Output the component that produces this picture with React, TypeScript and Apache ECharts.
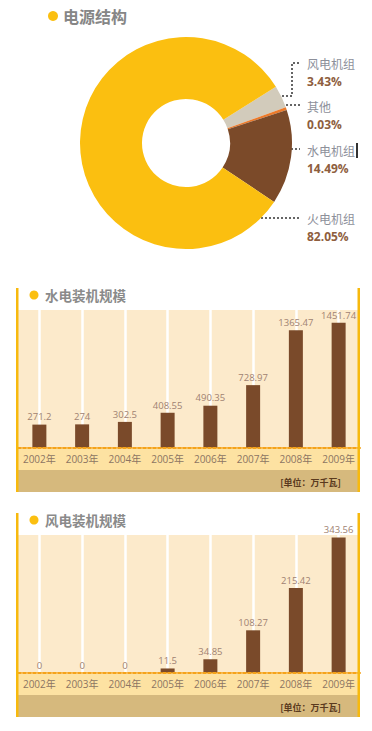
import React, { useEffect, useRef } from 'react';
import * as echarts from 'echarts';

const pieTitle = '电源结构';
const pieNames = ['风电机组', '其他', '水电机组', '火电机组'];
const pieValues = [3.43, 0.03, 14.49, 82.05];
const pieColors = ['#D2CBBB', '#EC7A2A', '#7B4A29', '#FBBF10'];

const years = ['2002年', '2003年', '2004年', '2005年', '2006年', '2007年', '2008年', '2009年'];
const hydroTitle = '水电装机规模';
const hydroValues = [271.2, 274, 302.5, 408.55, 490.35, 728.97, 1365.47, 1451.74];
const windTitle = '风电装机规模';
const windValues = [0, 0, 0, 11.5, 34.85, 108.27, 215.42, 343.56];
const unitText = '[单位：万千瓦]';

const FONT = '"Open Sans", "Noto Sans CJK SC", sans-serif';
const CJK = '"Noto Sans CJK SC", sans-serif';

export default function App() {
  const ref = useRef<HTMLDivElement>(null);
  useEffect(() => {
    const chart = echarts.init(ref.current!, null, { renderer: 'svg' });
    const graphic: any[] = [];

    // Pie title
    graphic.push({ type: 'circle', shape: { cx: 53, cy: 16, r: 5 }, style: { fill: '#FBBF10' } });
    graphic.push({
      type: 'text', x: 63, y: 16,
      style: { text: pieTitle, fill: '#868686', font: 'bold 16px ' + CJK, verticalAlign: 'middle' },
    });

    // Pie labels + leader lines
    const labelY = [63, 106, 150, 218];
    const dash = { stroke: '#333', lineWidth: 1.5, lineDash: [2, 2], fill: null };
    graphic.push({ type: 'polyline', shape: { points: [[278, 96], [292, 96], [292, 63], [300, 63]] }, style: dash });
    graphic.push({ type: 'line', shape: { x1: 282, y1: 105, x2: 300, y2: 105 }, style: dash });
    graphic.push({ type: 'line', shape: { x1: 283, y1: 149, x2: 300, y2: 149 }, style: dash });
    graphic.push({ type: 'line', shape: { x1: 253, y1: 218, x2: 300, y2: 218 }, style: dash });
    graphic.push({ type: 'rect', shape: { x: 356, y: 143, width: 2, height: 15 }, style: { fill: '#333' } });
    pieNames.forEach((n, i) => {
      graphic.push({
        type: 'text', x: 307, y: labelY[i],
        style: { text: n, fill: '#8D909A', font: '12px ' + CJK, verticalAlign: 'middle' },
      });
      graphic.push({
        type: 'text', x: 307, y: labelY[i] + 18,
        style: { text: pieValues[i].toFixed(2) + '%', fill: '#8E5E3E', font: 'bold 12px ' + FONT, verticalAlign: 'middle' },
      });
    });

    const grids: any[] = [];
    const xAxes: any[] = [];
    const yAxes: any[] = [];
    const series: any[] = [];

    series.push({
      type: 'pie',
      center: [186, 143],
      radius: [44, 106],
      startAngle: 32,
      clockwise: true,
      minAngle: 1.5,
      label: { show: false },
      labelLine: { show: false },
      emphasis: { disabled: true },
      silent: true,
      data: pieNames.map((n, i) => ({ name: n, value: pieValues[i], itemStyle: { color: pieColors[i] } })),
    });

    const panels = [
      { off: 0, title: hydroTitle, values: hydroValues, max: 1600 },
      { off: 225, title: windTitle, values: windValues, max: 350 },
    ];
    panels.forEach((p, gi) => {
      const o = p.off;
      graphic.push({ type: 'rect', shape: { x: 16, y: 288 + o, width: 2.5, height: 204 }, style: { fill: '#F7B90E' }, z: 10 });
      graphic.push({ type: 'rect', shape: { x: 357.5, y: 288 + o, width: 2.5, height: 204 }, style: { fill: '#F7B90E' }, z: 10 });
      graphic.push({ type: 'rect', shape: { x: 18, y: 449 + o, width: 340, height: 21 }, style: { fill: '#FDE2A2' }, z: -1 });
      graphic.push({ type: 'rect', shape: { x: 18, y: 470 + o, width: 340, height: 22 }, style: { fill: '#D6B97D' }, z: -1 });
      graphic.push({
        type: 'text', x: 341, y: 482 + o,
        style: { text: unitText, fill: '#5A3A1E', font: 'bold 9px ' + CJK, align: 'right', verticalAlign: 'middle' },
      });
      graphic.push({ type: 'circle', shape: { cx: 34, cy: 295 + o, r: 4.5 }, style: { fill: '#FBBF10' } });
      graphic.push({
        type: 'text', x: 45, y: 295 + o,
        style: { text: p.title, fill: '#8A8A8A', font: 'bold 13.5px ' + CJK, verticalAlign: 'middle' },
      });

      grids.push({ left: 18, right: 12, top: 310 + o, height: 138, show: true, backgroundColor: '#FCEACB', borderWidth: 0 });
      xAxes.push({
        gridIndex: gi, type: 'category', data: years,
        axisLine: { show: true, lineStyle: { color: '#F5A31A', type: [3, 2], width: 2 } },
        axisTick: { show: false },
        splitLine: { show: false },
        axisLabel: { interval: 0, color: '#8C7563', fontSize: 10, margin: 6, fontFamily: FONT },
        z: 4,
      });
      yAxes.push({ gridIndex: gi, type: 'value', min: 0, max: p.max, show: false, splitLine: { show: false } });
      series.push({
        type: 'line', xAxisIndex: gi, yAxisIndex: gi, data: p.values, symbol: 'none',
        lineStyle: { opacity: 0 }, silent: true, z: 1,
        markLine: {
          silent: true, z: 1, symbol: ['none', 'none'], label: { show: false },
          lineStyle: { color: '#FFFFFF', width: 2.5, type: 'solid' },
          data: years.map((y) => ({ xAxis: y })),
        },
      });
      series.push({
        type: 'bar', xAxisIndex: gi, yAxisIndex: gi, data: p.values, barWidth: 14, z: 3,
        itemStyle: { color: '#7A4A2A' },
        label: { show: true, position: 'top', distance: 3, color: '#A08272', fontSize: 9.5, fontFamily: FONT },
        silent: true,
      });
    });

    chart.setOption({
      animation: false,
      backgroundColor: '#FFFFFF',
      grid: grids,
      xAxis: xAxes,
      yAxis: yAxes,
      series,
      graphic,
    });
    return () => chart.dispose();
  }, []);
  return <div ref={ref} style={{ position: 'fixed', left: 0, top: 0, width: 372, height: 731 }} />;
}
